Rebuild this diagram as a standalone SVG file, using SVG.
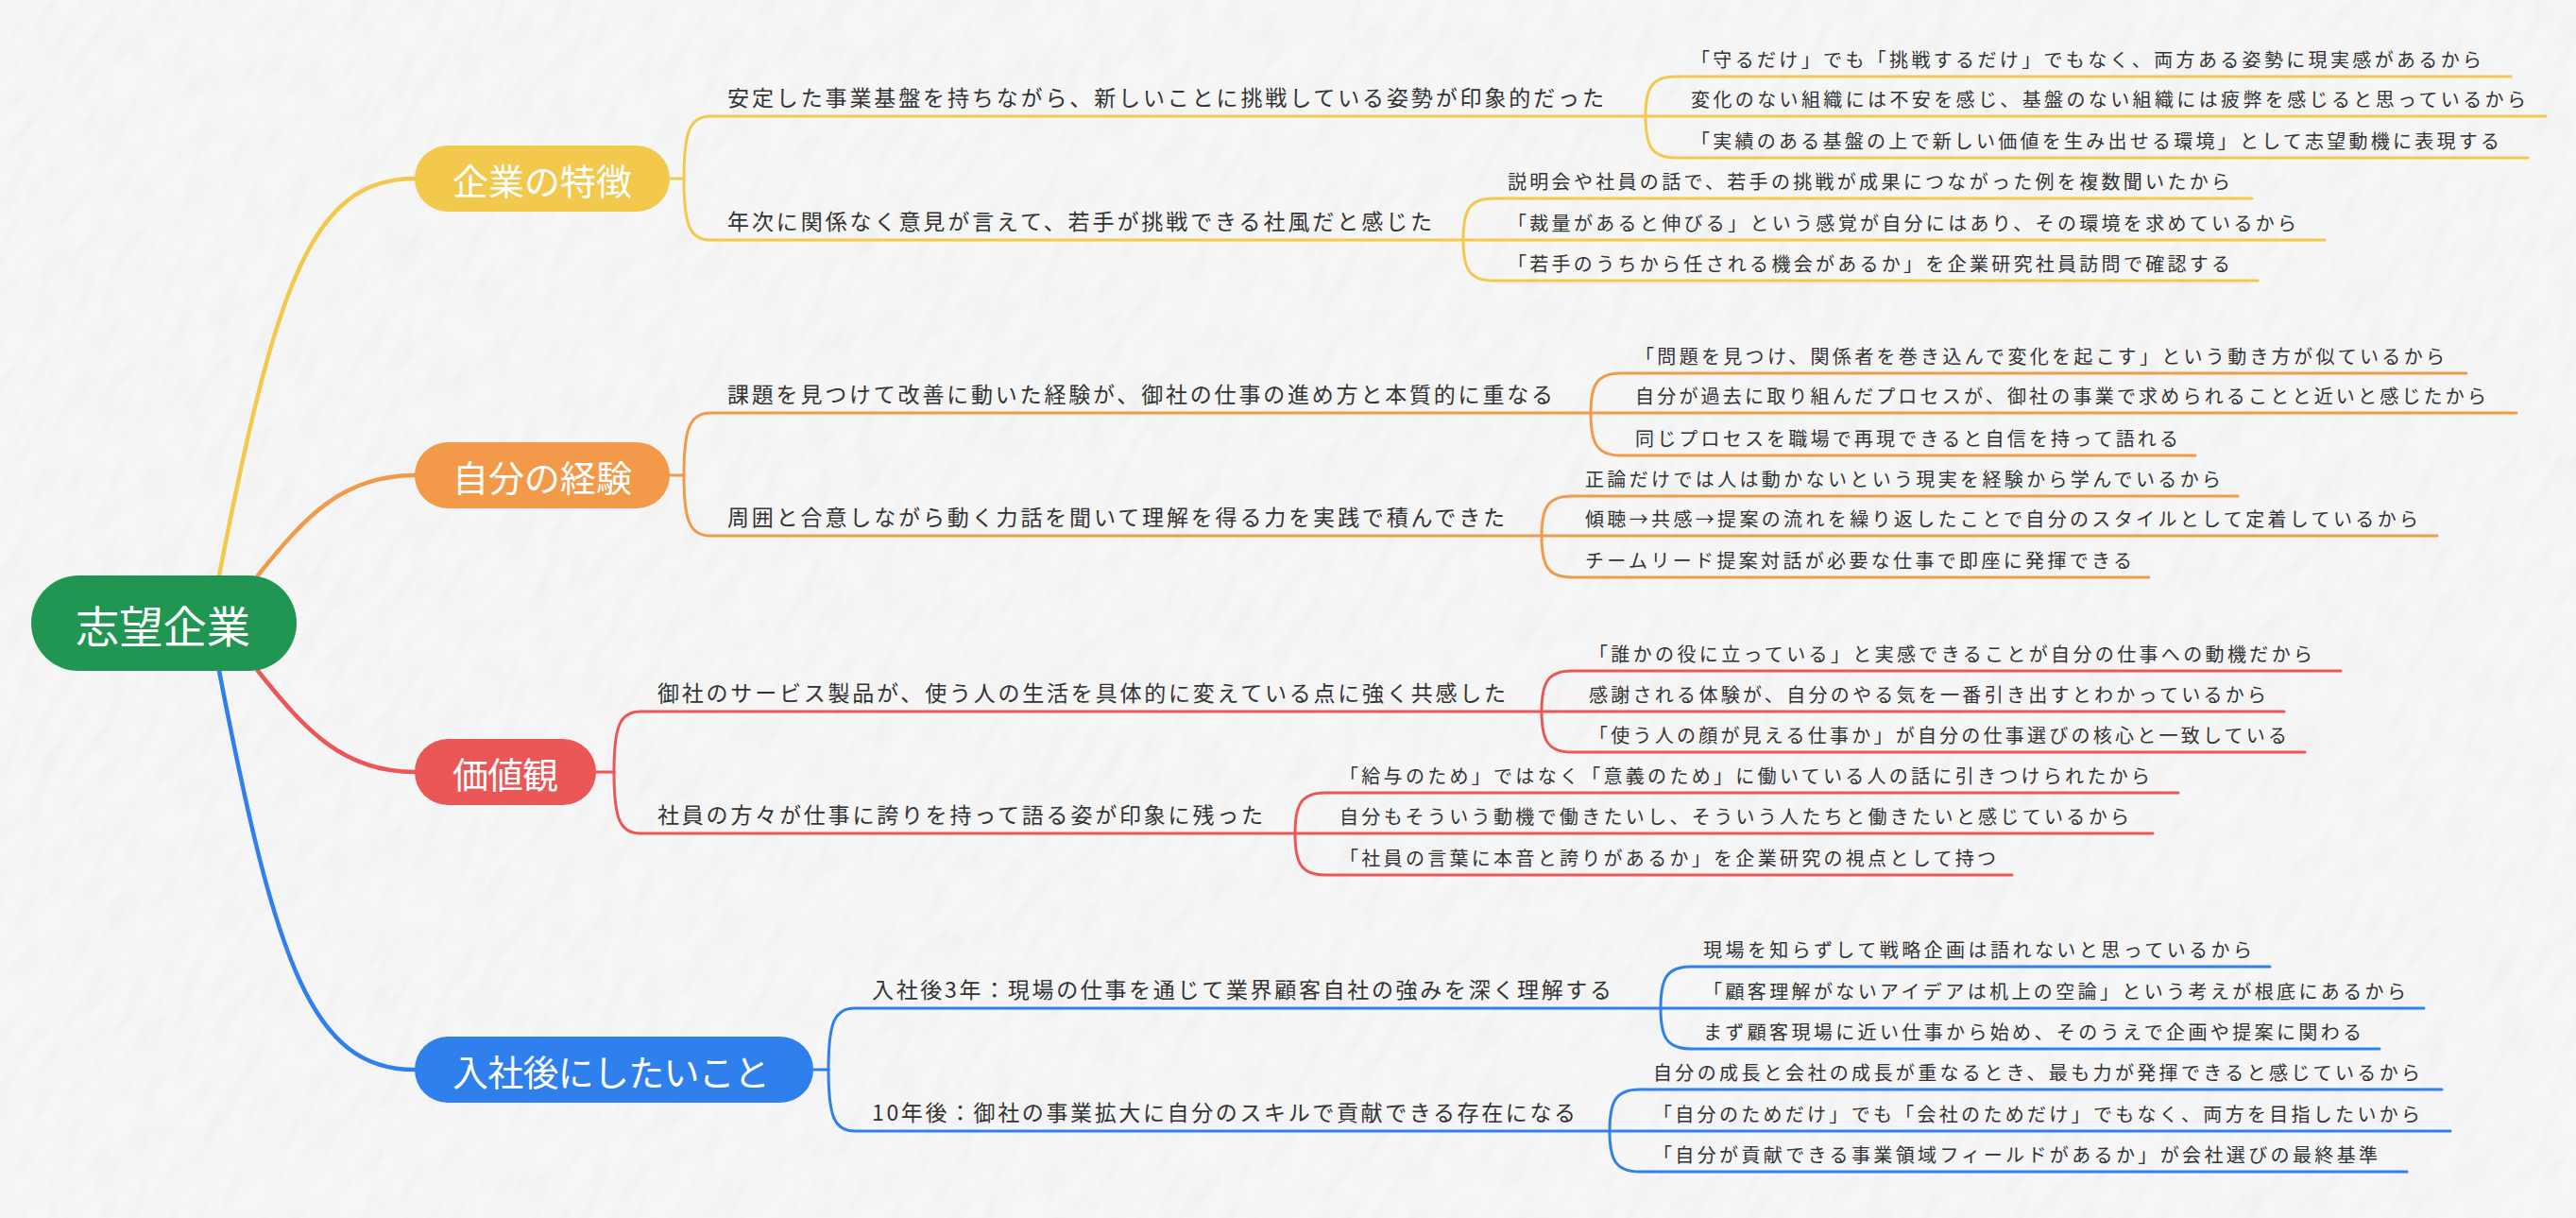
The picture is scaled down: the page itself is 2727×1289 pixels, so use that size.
<svg xmlns="http://www.w3.org/2000/svg" width="2727" height="1289" viewBox="0 0 2727 1289">
<defs>
<style>
text{font-family:"Noto Sans CJK JP","Noto Sans",sans-serif}
.t2{font-size:23px;fill:#333}
.t3{font-size:20px;fill:#333}
.n1{font-size:38px;fill:#fff;dominant-baseline:central}
.rt{font-size:46px;fill:#fff;dominant-baseline:central}
.c{fill:none;stroke-linecap:round;stroke-linejoin:round}
.m{stroke-width:4.5}
.s{stroke-width:3}
.cy{stroke:#F2C94C}.co{stroke:#F2994A}.cr{stroke:#EB5757}.cb{stroke:#2F80ED}
</style>
<filter id="paper" x="0" y="0" width="1" height="1">
<feTurbulence type="fractalNoise" baseFrequency="0.02 0.07" numOctaves="4" seed="7" result="n"/>
<feColorMatrix in="n" type="matrix" values="0 0 0 0 0.55 0 0 0 0 0.55 0 0 0 0 0.55 0.7 0 0 0 -0.3"/>
</filter>
</defs>
<rect width="2727" height="1289" fill="#f6f6f6"/>
<g transform="rotate(-60 1363 644)"><rect x="-600" y="-1400" width="3927" height="4089" filter="url(#paper)" opacity="0.35"/></g>

<g id="connectors">
<path class="c m cy" d="M232,609 C292,300 330,189 439,189"/>
<path class="c m co" d="M273,609 C322,548 362,503 439,503"/>
<path class="c m cr" d="M273,710 C322,771 362,817 439,817"/>
<path class="c m cb" d="M232,710 C292,1020 330,1132 439,1132"/>

<g class="c s cy">
<path d="M709,189 H724"/>
<path d="M724,189 C724,140 730,123 752,123 H1742"/>
<path d="M724,189 C724,238 730,254 752,254 H1549"/>
<path d="M1742,123 C1742,94 1748,81 1774,81 H2658"/>
<path d="M1742,123 H2695"/>
<path d="M1742,123 C1742,154 1748,167 1774,167 H2676"/>
<path d="M1549,254 C1549,223 1555,210 1581,210 H2384"/>
<path d="M1549,254 H2461"/>
<path d="M1549,254 C1549,284 1555,297 1581,297 H2390"/>
</g>
<g class="c s co">
<path d="M709,503 H724"/>
<path d="M724,503 C724,454 730,437 752,437 H1684"/>
<path d="M724,503 C724,551 730,567 752,567 H1632"/>
<path d="M1684,437 C1684,408 1690,395 1716,395 H2611"/>
<path d="M1684,437 H2664"/>
<path d="M1684,437 C1684,469 1690,482 1716,482 H2324"/>
<path d="M1632,567 C1632,538 1638,525 1664,525 H2369"/>
<path d="M1632,567 H2580"/>
<path d="M1632,567 C1632,598 1638,611 1664,611 H2275"/>
</g>
<g class="c s cr">
<path d="M631,817 H650"/>
<path d="M650,817 C650,769 656,753 678,753 H1632"/>
<path d="M650,817 C650,866 656,882 678,882 H1371"/>
<path d="M1632,753 C1632,723 1638,710 1664,710 H2478"/>
<path d="M1632,753 H2418"/>
<path d="M1632,753 C1632,783 1638,796 1664,796 H2440"/>
<path d="M1371,882 C1371,852 1377,839 1403,839 H2306"/>
<path d="M1371,882 H2279"/>
<path d="M1371,882 C1371,913 1377,926 1403,926 H2130"/>
</g>
<g class="c s cb">
<path d="M861,1132 H877"/>
<path d="M877,1132 C877,1083 883,1067 905,1067 H1758"/>
<path d="M877,1132 C877,1181 883,1197 905,1197 H1704"/>
<path d="M1758,1067 C1758,1036 1764,1023 1790,1023 H2403"/>
<path d="M1758,1067 H2566"/>
<path d="M1758,1067 C1758,1097 1764,1110 1790,1110 H2519"/>
<path d="M1704,1197 C1704,1166 1710,1153 1736,1153 H2585"/>
<path d="M1704,1197 H2594"/>
<path d="M1704,1197 C1704,1227 1710,1240 1736,1240 H2548"/>
</g>
</g>

<g id="root">
<rect x="33" y="609" width="281" height="101" rx="50.5" fill="#219653"/>
<text class="rt" x="80" y="660" textLength="185" lengthAdjust="spacingAndGlyphs">志望企業</text>
</g>

<g id="n-kigyo">
<rect x="439" y="154" width="270" height="70" rx="35" fill="#F2C94C"/>
<text class="n1" x="479" y="189" textLength="190">企業の特徴</text>
</g>
<g id="n-keiken">
<rect x="439" y="468" width="270" height="70" rx="35" fill="#F2994A"/>
<text class="n1" x="479" y="503" textLength="190">自分の経験</text>
</g>
<g id="n-kachikan">
<rect x="439" y="782" width="192" height="70" rx="35" fill="#EB5757"/>
<text class="n1" x="479" y="817" textLength="112">価値観</text>
</g>
<g id="n-nyusha">
<rect x="439" y="1097" width="422" height="70" rx="35" fill="#2F80ED"/>
<text class="n1" x="479" y="1132" textLength="336">入社後にしたいこと</text>
</g>

<g id="y1"><text class="t2" x="770" y="112" textLength="928">安定した事業基盤を持ちながら、新しいことに挑戦している姿勢が印象的だった</text></g>
<g id="y1a"><text class="t3" x="1790" y="71" textLength="837">「守るだけ」でも「挑戦するだけ」でもなく、両方ある姿勢に現実感があるから</text></g>
<g id="y1b"><text class="t3" x="1790" y="113" textLength="884">変化のない組織には不安を感じ、基盤のない組織には疲弊を感じると思っているから</text></g>
<g id="y1c"><text class="t3" x="1790" y="157" textLength="856">「実績のある基盤の上で新しい価値を生み出せる環境」として志望動機に表現する</text></g>
<g id="y2"><text class="t2" x="770" y="243" textLength="746">年次に関係なく意見が言えて、若手が挑戦できる社風だと感じた</text></g>
<g id="y2a"><text class="t3" x="1596" y="200" textLength="765">説明会や社員の話で、若手の挑戦が成果につながった例を複数聞いたから</text></g>
<g id="y2b"><text class="t3" x="1596" y="244" textLength="835">「裁量があると伸びる」という感覚が自分にはあり、その環境を求めているから</text></g>
<g id="y2c"><text class="t3" x="1596" y="287" textLength="765">「若手のうちから任される機会があるか」を企業研究社員訪問で確認する</text></g>

<g id="o1"><text class="t2" x="770" y="426" textLength="874">課題を見つけて改善に動いた経験が、御社の仕事の進め方と本質的に重なる</text></g>
<g id="o1a"><text class="t3" x="1731" y="385" textLength="857">「問題を見つけ、関係者を巻き込んで変化を起こす」という動き方が似ているから</text></g>
<g id="o1b"><text class="t3" x="1731" y="427" textLength="901">自分が過去に取り組んだプロセスが、御社の事業で求められることと近いと感じたから</text></g>
<g id="o1c"><text class="t3" x="1731" y="472" textLength="575">同じプロセスを職場で再現できると自信を持って語れる</text></g>
<g id="o2"><text class="t2" x="770" y="556" textLength="823">周囲と合意しながら動く力話を聞いて理解を得る力を実践で積んできた</text></g>
<g id="o2a"><text class="t3" x="1678" y="515" textLength="673">正論だけでは人は動かないという現実を経験から学んでいるから</text></g>
<g id="o2b"><text class="t3" x="1678" y="557" textLength="882">傾聴→共感→提案の流れを繰り返したことで自分のスタイルとして定着しているから</text></g>
<g id="o2c"><text class="t3" x="1678" y="601" textLength="579">チームリード提案対話が必要な仕事で即座に発揮できる</text></g>

<g id="r1"><text class="t2" x="696" y="742" textLength="898">御社のサービス製品が、使う人の生活を具体的に変えている点に強く共感した</text></g>
<g id="r1a"><text class="t3" x="1682" y="700" textLength="766">「誰かの役に立っている」と実感できることが自分の仕事への動機だから</text></g>
<g id="r1b"><text class="t3" x="1682" y="743" textLength="717">感謝される体験が、自分のやる気を一番引き出すとわかっているから</text></g>
<g id="r1c"><text class="t3" x="1682" y="786" textLength="739">「使う人の顔が見える仕事か」が自分の仕事選びの核心と一致している</text></g>
<g id="r2"><text class="t2" x="696" y="871" textLength="641">社員の方々が仕事に誇りを持って語る姿が印象に残った</text></g>
<g id="r2a"><text class="t3" x="1418" y="829" textLength="858">「給与のため」ではなく「意義のため」に働いている人の話に引きつけられたから</text></g>
<g id="r2b"><text class="t3" x="1418" y="872" textLength="836">自分もそういう動機で働きたいし、そういう人たちと働きたいと感じているから</text></g>
<g id="r2c"><text class="t3" x="1418" y="916" textLength="695">「社員の言葉に本音と誇りがあるか」を企業研究の視点として持つ</text></g>

<g id="b1"><text class="t2" x="923" y="1056" textLength="783">入社後3年：現場の仕事を通じて業界顧客自社の強みを深く理解する</text></g>
<g id="b1a"><text class="t3" x="1803" y="1013" textLength="581">現場を知らずして戦略企画は語れないと思っているから</text></g>
<g id="b1b"><text class="t3" x="1803" y="1057" textLength="744">「顧客理解がないアイデアは机上の空論」という考えが根底にあるから</text></g>
<g id="b1c"><text class="t3" x="1803" y="1100" textLength="697">まず顧客現場に近い仕事から始め、そのうえで企画や提案に関わる</text></g>
<g id="b2"><text class="t2" x="923" y="1186" textLength="745">10年後：御社の事業拡大に自分のスキルで貢献できる存在になる</text></g>
<g id="b2a"><text class="t3" x="1750" y="1143" textLength="812">自分の成長と会社の成長が重なるとき、最も力が発揮できると感じているから</text></g>
<g id="b2b"><text class="t3" x="1750" y="1187" textLength="812">「自分のためだけ」でも「会社のためだけ」でもなく、両方を目指したいから</text></g>
<g id="b2c"><text class="t3" x="1750" y="1230" textLength="767">「自分が貢献できる事業領域フィールドがあるか」が会社選びの最終基準</text></g>
</svg>
